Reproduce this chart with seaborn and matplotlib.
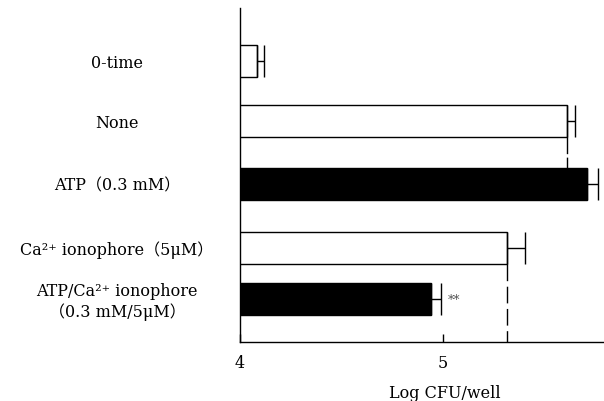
import numpy as np
import pandas as pd
import matplotlib
matplotlib.use("Agg")
import matplotlib.pyplot as plt
import seaborn as sns

# ---- data ----
CATEGORIES = ["0-time", "None", "ATP（0.3 mM）", "Ca²⁺ ionophore（5μM）",
              "ATP/Ca²⁺ ionophore\n（0.3 mM/5μM）"]
VALUES = [4.082, 5.609, 5.711, 5.317, 4.939]      # Log CFU/well
ERRORS = [0.036, 0.043, 0.054, 0.087, 0.051]
FILLS = ["white", "white", "black", "white", "black"]
X_TICKS = [4, 5]
X_LABEL = "Log CFU/well"
SIGNIF = "**"

# ---- layout (row centres, in pixels from top of the axes) ----
ROW_POS = [53, 113, 176, 240, 290.5]
BAR_H = 32

sns.set_style("white")
plt.rcParams["font.family"] = ["DejaVu Serif", "Noto Sans CJK JP"]
plt.rcParams["text.color"] = "black"
plt.rcParams["xtick.color"] = "black"
plt.rcParams["ytick.color"] = "black"
plt.rcParams["axes.labelcolor"] = "black"

fig = plt.figure(figsize=(6.04, 4.01), dpi=100)
ax = fig.add_axes([240 / 604, 59 / 401, 364 / 604, 334 / 401])

df = pd.DataFrame({"cat": CATEGORIES, "val": VALUES, "pos": ROW_POS})
min_gap = np.min(np.diff(sorted(ROW_POS)))
sns.barplot(data=df, x="val", y="pos", hue="cat", orient="y", native_scale=True,
            palette=dict(zip(CATEGORIES, FILLS)), dodge=False, legend=False,
            width=BAR_H / min_gap, edgecolor="black", linewidth=1, ax=ax,
            errorbar=None)

ax.errorbar(VALUES, ROW_POS, xerr=[np.zeros(len(VALUES)), ERRORS], fmt="none",
            ecolor="black", elinewidth=1, capsize=BAR_H * 72 / 100 / 2,
            capthick=1, zorder=5)

# reference dashed lines
ax.vlines(VALUES[1], ROW_POS[1] + BAR_H / 2, ROW_POS[2] - BAR_H / 2,
          colors="black", linewidth=1, linestyles=(0, (12, 2.5)))
ax.vlines(VALUES[3], ROW_POS[3] + BAR_H / 2, 334,
          colors="black", linewidth=1, linestyles=(0, (12, 4)))

ax.text(VALUES[4] + ERRORS[4] + 0.035, ROW_POS[4] + 2, SIGNIF, fontsize=9,
        color="#555555", va="center", ha="left")

ax.set_xlim(4, 4 + 364 / 203)
ax.set_ylim(334, 0)
ax.set_xticks(X_TICKS)
ax.set_xticklabels([str(t) for t in X_TICKS], fontsize=11.5)
ax.tick_params(axis="x", direction="in", length=5.5, width=1, pad=9,
               bottom=True, colors="black")
ax.set_yticks(ROW_POS)
ax.set_yticklabels(CATEGORIES, fontsize=11.5)
ax.tick_params(axis="y", length=0, pad=123 * 72 / 100)
for lab in ax.get_yticklabels():
    lab.set_horizontalalignment("center")
    lab.set_multialignment("center")

ax.set_xlabel(X_LABEL, fontsize=11.5)
ax.set_ylabel("")
ax.xaxis.set_label_coords((445 - 240) / 364, -0.128)

for s in ["top", "right"]:
    ax.spines[s].set_visible(False)
for s in ["left", "bottom"]:
    ax.spines[s].set_color("black")
    ax.spines[s].set_linewidth(1)

fig.savefig("out.png", dpi=100)
